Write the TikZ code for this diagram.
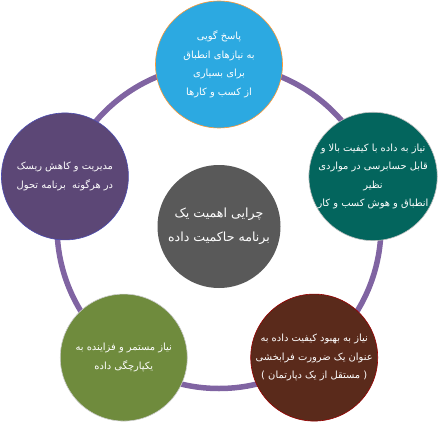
\documentclass[tikz,border=0pt]{standalone}
\usepackage{fontspec}
\usepackage{tikz}
\usetikzlibrary{positioning}
\TeXXeTstate=1
\newfontfamily\arabicfont[Script=Arabic]{DejaVu Sans}
\newcommand{\rtl}[1]{\beginR#1\endR}
\definecolor{palRing}{HTML}{8064A2}
\definecolor{palSky}{HTML}{2CA9E1}
\definecolor{palTeal}{HTML}{03655D}
\definecolor{palBrick}{HTML}{5A2A1B}
\definecolor{palOlive}{HTML}{6F8B3D}
\definecolor{palPlum}{HTML}{5C4776}
\definecolor{palSlate}{HTML}{595959}

\begin{document}
\begin{tikzpicture}[
  x=1pt, y=-1pt,
  petal/.style={circle, minimum size=127pt, inner sep=0pt, align=center, text=white,
    line width=0.6pt, font=\arabicfont\fontsize{9.9}{18.5}\selectfont},
  skypetal/.style={petal, fill=palSky, draw=orange!80},
  tealpetal/.style={petal, fill=palTeal, draw=black!25},
  brickpetal/.style={petal, fill=palBrick, draw=red!60!black},
  olivepetal/.style={petal, fill=palOlive, draw=black!20},
  plumpetal/.style={petal, fill=palPlum, draw=blue!55!black!70},
  hubnode/.style={circle, minimum size=123pt, inner sep=0pt, align=center, text=white,
    fill=palSlate, font=\arabicfont\fontsize{12.6}{24}\selectfont},
  ring/.style={draw=palRing, line width=5.5pt},
]
\useasboundingbox (0,0) rectangle (438,422);
\coordinate (mid) at (219,226.5);

% ring behind the circles
\draw[ring] (mid) circle[radius=162pt];

\node[hubnode] (hub) at (mid) {\rtl{چرایی اهمیت یک}\\\rtl{برنامه حاکمیت داده}};

\node[skypetal] (answer) at ([shift={(90:162pt)}]mid)
  {\rtl{پاسخ گویی}\\\rtl{به نیازهای انطباق}\\\rtl{برای بسیاری}\\\rtl{از کسب و کارها}};
\node[tealpetal] (quality) at ([shift={(18:162pt)}]mid)
  {\rtl{نیاز به داده با کیفیت بالا و}\\\rtl{قابل حسابرسی در مواردی}\\\rtl{نظیر}\\\rtl{انطباق و هوش کسب و کار}};
\node[brickpetal] (improve) at ([shift={(-54:162pt)}]mid)
  {\rtl{نیاز به بهبود کیفیت داده به}\\\rtl{عنوان یک ضرورت فرابخشی}\\\rtl{( مستقل از یک دپارتمان )}};
\node[olivepetal] (integ) at ([shift={(-126:162pt)}]mid)
  {\rtl{نیاز مستمر و فزاینده به}\\\rtl{یکپارچگی داده}};
\node[plumpetal] (risk) at ([shift={(162:162pt)}]mid)
  {\rtl{مدیریت و کاهش ریسک}\\\rtl{در هرگونه\ \ برنامه تحول}};
\end{tikzpicture}
\end{document}
